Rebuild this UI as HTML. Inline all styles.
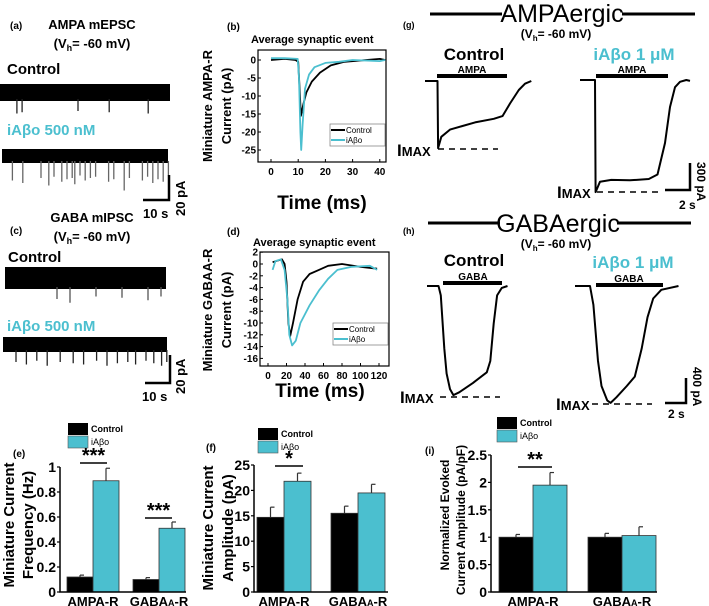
<!DOCTYPE html>
<html><head><meta charset="utf-8">
<style>
html,body{margin:0;padding:0;background:#fff;}
svg{display:block;font-family:"Liberation Sans",Arial,sans-serif;}
.b{font-weight:bold;}
</style></head>
<body>
<svg id="fig" width="709" height="606" viewBox="0 0 709 606" xmlns="http://www.w3.org/2000/svg">
<g id="static" fill="#000">
  <text x="10" y="29" font-size="10" class="b">(a)</text>
  <text x="92" y="29" font-size="13" text-anchor="middle" class="b">AMPA mEPSC</text>
  <text x="92" y="48" font-size="13" text-anchor="middle" class="b">(V<tspan font-size="9" dy="3">h</tspan><tspan dy="-3">= -60 mV)</tspan></text>
  <text x="7" y="74" font-size="15" class="b">Control</text>
  <text x="7" y="135" font-size="15" class="b" fill="#4bbfcf">iAβo 500 nM</text>
  <text x="143" y="218" font-size="13" class="b">10 s</text>
  <text transform="translate(185,216) rotate(-90)" font-size="13" class="b">20 pA</text>
  <text x="10" y="234" font-size="10" class="b">(c)</text>
  <text x="92" y="222" font-size="13" text-anchor="middle" class="b">GABA mIPSC</text>
  <text x="92" y="241" font-size="13" text-anchor="middle" class="b">(V<tspan font-size="9" dy="3">h</tspan><tspan dy="-3">= -60 mV)</tspan></text>
  <text x="8" y="262" font-size="15" class="b">Control</text>
  <text x="7" y="331" font-size="15" class="b" fill="#4bbfcf">iAβo 500 nM</text>
  <text x="142" y="401" font-size="13" class="b">10 s</text>
  <text transform="translate(185,394) rotate(-90)" font-size="13" class="b">20 pA</text>
  <text x="227" y="30" font-size="10" class="b">(b)</text>
  <text x="251" y="43" font-size="11" class="b">Average synaptic event</text>
  <text transform="translate(212,106) rotate(-90)" font-size="13" class="b" text-anchor="middle">Miniature AMPA-R</text>
  <text transform="translate(231,106) rotate(-90)" font-size="13" class="b" text-anchor="middle">Current (pA)</text>
  <text x="322" y="209" font-size="19" class="b" text-anchor="middle">Time (ms)</text>
  <text x="227" y="235" font-size="10" class="b">(d)</text>
  <text x="253" y="246" font-size="11" class="b">Average synaptic event</text>
  <text transform="translate(212,310) rotate(-90)" font-size="13" class="b" text-anchor="middle">Miniature GABAA-R</text>
  <text transform="translate(231,310) rotate(-90)" font-size="13" class="b" text-anchor="middle">Current (pA)</text>
  <text x="320" y="397" font-size="19" class="b" text-anchor="middle">Time (ms)</text>
  <line x1="430" y1="14" x2="502" y2="14" stroke="#000" stroke-width="3"/>
  <line x1="622" y1="14" x2="695" y2="14" stroke="#000" stroke-width="3"/>
  <text x="562" y="22" font-size="25" text-anchor="middle">AMPAergic</text>
  <text x="403" y="28" font-size="9" class="b">(g)</text>
  <text x="556" y="38" font-size="12" class="b" text-anchor="middle">(V<tspan font-size="8" dy="3">h</tspan><tspan dy="-3">= -60 mV)</tspan></text>
  <text x="474" y="60" font-size="17" class="b" text-anchor="middle">Control</text>
  <text x="634" y="60" font-size="17" class="b" text-anchor="middle" fill="#4bbfcf">iAβo 1 μM</text>
  <text x="472" y="73" font-size="10" class="b" text-anchor="middle">AMPA</text>
  <text x="632" y="73" font-size="10" class="b" text-anchor="middle">AMPA</text>
  <rect x="437" y="74" width="70" height="4"/>
  <rect x="596" y="74" width="72" height="4"/>
  <text x="397" y="156" font-size="13" class="b"><tspan font-size="17">I</tspan>MAX</text>
  <line x1="438" y1="149" x2="498" y2="149" stroke="#000" stroke-width="1.5" stroke-dasharray="6,5"/>
  <text x="557" y="198" font-size="13" class="b"><tspan font-size="17">I</tspan>MAX</text>
  <line x1="597" y1="192" x2="660" y2="192" stroke="#000" stroke-width="1.5" stroke-dasharray="6,5"/>
  <path d="M690 163 V190 H665" fill="none" stroke="#000" stroke-width="2.5"/>
  <text x="679" y="209" font-size="12" class="b">2 s</text>
  <text transform="translate(697,162) rotate(90)" font-size="12" class="b">300 pA</text>
  <line x1="428" y1="223" x2="500" y2="223" stroke="#000" stroke-width="3"/>
  <line x1="617" y1="223" x2="691" y2="223" stroke="#000" stroke-width="3"/>
  <text x="558" y="232" font-size="25" text-anchor="middle">GABAergic</text>
  <text x="403" y="234" font-size="9" class="b">(h)</text>
  <text x="556" y="248" font-size="12" class="b" text-anchor="middle">(V<tspan font-size="8" dy="3">h</tspan><tspan dy="-3">= -60 mV)</tspan></text>
  <text x="474" y="266" font-size="17" class="b" text-anchor="middle">Control</text>
  <text x="633" y="268" font-size="17" class="b" text-anchor="middle" fill="#4bbfcf">iAβo 1 μM</text>
  <text x="473" y="280" font-size="10" class="b" text-anchor="middle">GABA</text>
  <text x="629" y="282" font-size="10" class="b" text-anchor="middle">GABA</text>
  <rect x="443" y="281" width="59" height="4"/>
  <rect x="596" y="283" width="67" height="4"/>
  <text x="400" y="403" font-size="13" class="b"><tspan font-size="17">I</tspan>MAX</text>
  <line x1="440" y1="397" x2="500" y2="397" stroke="#000" stroke-width="1.5" stroke-dasharray="6,5"/>
  <text x="556" y="410" font-size="13" class="b"><tspan font-size="17">I</tspan>MAX</text>
  <line x1="592" y1="404" x2="652" y2="404" stroke="#000" stroke-width="1.5" stroke-dasharray="6,5"/>
  <path d="M686 378 V403 H665" fill="none" stroke="#000" stroke-width="2.5"/>
  <text x="668" y="418" font-size="12" class="b">2 s</text>
  <text transform="translate(693,367) rotate(90)" font-size="12" class="b">400 pA</text>
  <text x="13" y="457" font-size="10" class="b">(e)</text>
  <text transform="translate(14,525) rotate(-90)" font-size="15" class="b" text-anchor="middle">Miniature  Current</text>
  <text transform="translate(33,525) rotate(-90)" font-size="15" class="b" text-anchor="middle">Frequency (Hz)</text>
  <text x="206" y="451" font-size="10" class="b">(f)</text>
  <text transform="translate(213,528) rotate(-90)" font-size="15" class="b" text-anchor="middle">Miniature  Current</text>
  <text transform="translate(233,528) rotate(-90)" font-size="15" class="b" text-anchor="middle">Amplitude (pA)</text>
  <text x="425" y="454" font-size="10" class="b">(i)</text>
  <text transform="translate(449,515) rotate(-90)" font-size="12" class="b" text-anchor="middle">Normalized Evoked</text>
  <text transform="translate(465,520) rotate(-90)" font-size="12" class="b" text-anchor="middle">Current Amplitude (pA/pF)</text>
</g>
<g id="dyn"></g>
</svg>
<script>
const aCtrlSpikeT = [6.5, 8.5, 30, 42, 57];
const aCtrlSpikeA = [-10, -9, -8, -9, -10];
const aIaboSpikeT = [4, 8, 15, 18, 20, 23, 25, 27, 28, 30, 32, 34, 36, 41, 43, 47, 49, 54, 56, 58, 60, 62, 64];
const aIaboSpikeA = [-14, -16, -12, -18, -11, -15, -13, -12, -17, -10, -14, -12, -11, -15, -13, -22, -12, -14, -11, -16, -13, -15, -10];
const cCtrlSpikeT = [20, 25, 35, 45, 55, 60];
const cCtrlSpikeA = [-8, -11, -6, -7, -9, -6];
const cIaboSpikeT = [5, 9, 13, 17, 22, 27, 31, 36, 40, 44, 48, 51, 55, 58, 61, 63];
const cIaboSpikeA = [-8, -10, -7, -11, -8, -9, -10, -7, -11, -9, -8, -10, -7, -9, -11, -8];
const bT = [0, 5, 9, 10, 10.5, 11, 12, 13, 15, 18, 22, 27, 35, 40, 42];
const bCtrl = [0, 0.3, 0, -0.5, -8, -15.5, -12, -9, -6, -3.5, -1.5, -0.5, 0, 0.3, 0];
const bT2 = [0, 5, 9.8, 10.3, 10.8, 11.1, 11.6, 12.5, 14, 16, 20, 25, 30, 40, 42];
const bIabo = [0.5, 0.5, 0.3, -5, -20, -25, -18, -8, -4, -2, -0.8, -0.5, 0, -0.3, 0];
const dT = [5, 15, 18, 20, 22, 24, 27, 32, 38, 45, 55, 65, 80, 100, 118];
const dCtrl = [0.3, 0.8, 0, -3, -10, -12.2, -10, -6, -3, -1.7, -1, -0.3, 0, -0.5, -0.8];
const dT2 = [5, 8, 14, 18, 21, 23, 26, 30, 35, 45, 55, 65, 75, 90, 110, 118];
const dIabo = [-1, 0.5, 0.8, -1, -6, -12, -13.8, -13, -10, -7, -4.5, -2.5, -1, -0.5, -0.3, -1];
const bXTicks = [0, 10, 20, 30, 40];
const bYTicks = [0, -5, -10, -15, -20, -25];
const dXTicks = [0, 20, 40, 60, 80, 100, 120];
const dYTicks = [2, 0, -2, -4, -6, -8, -10, -12, -14, -16];
const gCtrlT = [0, 1.0, 1.05, 1.3, 2, 3, 4, 5.5, 6.2, 6.8, 7.5, 8, 8.5];
const gCtrlI = [0, 0, -745, -620, -540, -500, -460, -420, -390, -250, -100, -30, 0];
const gIaboT = [0, 1.2, 1.25, 1.6, 2.5, 4, 5.5, 6.2, 6.8, 7.2, 7.6, 8, 8.5, 8.8];
const gIaboI = [0, 0, -1245, -1130, -1110, -1115, -1100, -1050, -700, -300, -80, -20, 0, -10];
const hCtrlT = [0, 1.0, 1.2, 1.5, 1.7, 2.0, 2.3, 2.8, 4, 5.2, 5.5, 5.8, 6.1, 6.5, 7];
const hCtrlI = [0, 0, -150, -1000, -1400, -1650, -1745, -1700, -1550, -1380, -1200, -600, -150, -30, 0];
const hIaboT = [0, 1.3, 1.6, 2.0, 2.3, 2.8, 3.1, 3.6, 4.5, 5.2, 5.8, 6.3, 6.8, 7.5, 9];
const hIaboI = [0, 0, -300, -1200, -1600, -1830, -1870, -1780, -1600, -1450, -1000, -500, -200, -60, 0];
const barCategories = ['AMPA-R', 'GABAA-R'];
const eCtrl = [0.12, 0.10];
const eCtrlErr = [0.015, 0.015];
const eIabo = [0.89, 0.51];
const eIaboErr = [0.10, 0.05];
const eTicks = [0, 0.2, 0.4, 0.6, 0.8, 1];
const fCtrl = [14.7, 15.5];
const fCtrlErr = [2.0, 1.4];
const fIabo = [21.8, 19.5];
const fIaboErr = [1.6, 1.7];
const fTicks = [0, 5, 10, 15, 20, 25];
const iCtrl = [1.0, 1.0];
const iCtrlErr = [0.05, 0.07];
const iIabo = [1.95, 1.03];
const iIaboErr = [0.23, 0.16];
const iTicks = [0, 0.5, 1, 1.5, 2, 2.5];
const TEAL = '#4bbfcf';

const NS = 'http://www.w3.org/2000/svg';
const dyn = document.getElementById('dyn');
function mk(tag, attrs, parent) {
  const el = document.createElementNS(NS, tag);
  for (const k in attrs) el.setAttribute(k, attrs[k]);
  (parent || dyn).appendChild(el);
  return el;
}
function txt(x, y, s, size, anchor, extra) {
  const t = mk('text', Object.assign({x: x, y: y, 'font-size': size, 'text-anchor': anchor || 'start', 'font-weight': 'bold'}, extra || {}));
  t.textContent = s;
  return t;
}

function rawTrace(name, x0, x1, yTop, yBot, pxPerS, pxPerPA, spT, spA, spColor) {
  const band = mk('rect', {x: x0, y: yTop, width: x1 - x0, height: yBot - yTop, fill: '#000'});
  
  
  for (let i = 0; i < spT.length; i++) {
    const x = x0 + spT[i] * pxPerS;
    const l = mk('line', {x1: x, x2: x, y1: yBot - 2, y2: yBot + (-spA[i]) * pxPerPA, stroke: spColor, 'stroke-width': 1.3});
    
    
  }
}
rawTrace('a-control-trace', 0, 170, 84, 101, 2.6, 1.25, aCtrlSpikeT, aCtrlSpikeA, '#222');
rawTrace('a-iabo-trace', 2, 168, 149, 163, 2.6, 1.25, aIaboSpikeT, aIaboSpikeA, '#666');
rawTrace('c-control-trace', 5, 166, 267, 289, 2.6, 1.25, cCtrlSpikeT, cCtrlSpikeA, '#555');
rawTrace('c-iabo-trace', 3, 167, 337, 352, 2.6, 1.25, cIaboSpikeT, cIaboSpikeA, '#222');
[['a', 169, 175, 200, 143], ['c', 170, 355, 383, 145]].forEach(s => {
  const p = mk('path', {d: `M${s[1]} ${s[2]} V${s[3]} H${s[4]}`, fill: 'none', stroke: '#000', 'stroke-width': 2.5});
  
  
});

function linePanel(name, box, xMap, yMap, xTicks, yTicks, series, legendY) {
  const r = mk('rect', {x: box[0], y: box[1], width: box[2] - box[0], height: box[3] - box[1], fill: 'none', stroke: '#000', 'stroke-width': 1.2});
  
  
  xTicks.forEach(v => {
    const x = xMap(v);
    mk('line', {x1: x, x2: x, y1: box[3], y2: box[3] - 3, stroke: '#000'});
    const t = txt(x, box[3] + 13, String(v), 10, 'middle');
    
    
  });
  yTicks.forEach(v => {
    const y = yMap(v);
    mk('line', {x1: box[0], x2: box[0] + 3, y1: y, y2: y, stroke: '#000'});
    const t = txt(box[0] - 2, y + 3.5, String(v), 10, 'end');
    
    
  });
  series.forEach(s => {
    const pts = s.t.map((t, i) => xMap(t).toFixed(1) + ',' + yMap(s.v[i]).toFixed(1)).join(' ');
    const pl = mk('polyline', {points: pts, fill: 'none', stroke: s.c, 'stroke-width': 1.8, 'stroke-linejoin': 'round'});
    
    
  });
  const lx = box[2] - 56;
  const lg = mk('rect', {x: lx, y: legendY, width: 55, height: 22, fill: '#fff', stroke: '#888', 'stroke-width': 0.8});
  
  
  mk('line', {x1: lx + 1, x2: lx + 15, y1: legendY + 6, y2: legendY + 6, stroke: '#000', 'stroke-width': 2});
  mk('line', {x1: lx + 1, x2: lx + 15, y1: legendY + 16, y2: legendY + 16, stroke: TEAL, 'stroke-width': 2});
  const l1 = txt(lx + 16, legendY + 9, 'Control', 8, 'start', {'font-weight': 'normal'});
  
  
  const l2 = txt(lx + 16, legendY + 19, 'iAβo', 8, 'start', {'font-weight': 'normal'});
  
  
}
linePanel('panel-b', [258, 50, 386, 162], t => 271 + t * 2.72, v => 60 - v * 3.6, bXTicks, bYTicks,
  [{n: 'control', t: bT, v: bCtrl, c: '#000'}, {n: 'iabo', t: bT2, v: bIabo, c: TEAL}], 124);
linePanel('panel-d', [260, 252, 389, 366], t => 268 + t * 0.925, v => 264 - v * 5.9, dXTicks, dYTicks,
  [{n: 'control', t: dT, v: dCtrl, c: '#000'}, {n: 'iabo', t: dT2, v: dIabo, c: TEAL}], 323);

function evoked(name, x0, y0, pxS, pxPA, T, I) {
  const pts = T.map((t, i) => (x0 + t * pxS).toFixed(1) + ',' + (y0 - I[i] * pxPA).toFixed(1)).join(' ');
  const pl = mk('polyline', {points: pts, fill: 'none', stroke: '#000', 'stroke-width': 2, 'stroke-linejoin': 'round'});
  
  
}
evoked('g-control-trace', 425, 81, 12.5, 0.09, gCtrlT, gCtrlI);
evoked('g-iabo-trace', 580, 80, 12.5, 0.09, gIaboT, gIaboI);
evoked('h-control-trace', 427, 286, 11.5, 0.0625, hCtrlT, hCtrlI);
evoked('h-iabo-trace', 575, 286, 11.5, 0.0625, hIaboT, hIaboI);

function barPanel(name, axX, axRight, y0, yTop, maxV, ticks, groupStarts, barW, ctrl, ctrlE, iabo, iaboE, legend, sig) {
  const yMap = v => y0 - (v / maxV) * (y0 - yTop);
  ticks.forEach(v => {
    const y = yMap(v);
    mk('line', {x1: axX - 3, x2: axX, y1: y, y2: y, stroke: '#000', 'stroke-width': 1.2});
    const t = txt(axX - 4, y + 5, String(v), 14, 'end');
    
    
  });
  groupStarts.forEach((gx, i) => {
    [[ctrl, ctrlE, '#000', 'control', 0], [iabo, iaboE, TEAL, 'iabo', 1]].forEach(s => {
      const x = gx + s[4] * barW;
      const top = yMap(s[0][i]);
      const errY = yMap(s[0][i] + s[1][i]);
      const el = mk('line', {x1: x + barW / 2, x2: x + barW / 2, y1: top, y2: errY, stroke: '#333', 'stroke-width': 1.2});
      mk('line', {x1: x + barW / 2, x2: x + barW / 2 + 4, y1: errY, y2: errY, stroke: '#333', 'stroke-width': 1.2});
      
      
      const r = mk('rect', {x: x, y: top, width: barW, height: y0 - top, fill: s[2], stroke: '#333', 'stroke-width': 0.8});
      
      
    });
    const lab = txt(gx + barW, y0 + 14, i === 0 ? 'AMPA-R' : 'GABA', 13, 'middle');
    if (i === 1) {
      const ts = document.createElementNS(NS, 'tspan'); ts.setAttribute('font-size', '9'); ts.textContent = 'A';
      lab.appendChild(ts);
      const ts2 = document.createElementNS(NS, 'tspan'); ts2.textContent = '-R';
      lab.appendChild(ts2);
    }
    
    
  });
  const ax = mk('path', {d: `M${axX} ${yTop} V${y0} H${axRight}`, fill: 'none', stroke: '#000', 'stroke-width': 1.5});
  
  
  const lb = mk('rect', {x: legend[0], y: legend[1], width: 20, height: 12, fill: '#000'});
  
  
  const lt = mk('rect', {x: legend[0], y: legend[1] + 13, width: 20, height: 12, fill: TEAL, stroke: '#555', 'stroke-width': 0.6});
  
  
  const t1 = txt(legend[0] + 23, legend[1] + 9, 'Control', 9, 'start');
  
  
  const t2 = txt(legend[0] + 23, legend[1] + 22, 'iAβo', 9, 'start', {'font-weight': 'normal'});
  
  
  sig.forEach(s => {
    mk('line', {x1: s[0], x2: s[1], y1: s[2], y2: s[2], stroke: '#000', 'stroke-width': 1.5});
    const st = txt((s[0] + s[1]) / 2, s[2] - 1, s[3], 20, 'middle');
    
    
  });
}
barPanel('panel-e', 60, 186, 592, 467, 1, eTicks, [67, 133], 26, eCtrl, eCtrlErr, eIabo, eIaboErr, [68, 423],
  [[80, 107, 463, '***'], [145, 172, 518, '***']]);
barPanel('panel-f', 254, 388, 592, 465, 25, fTicks, [257, 331], 27, fCtrl, fCtrlErr, fIabo, fIaboErr, [258, 428],
  [[275, 303, 466, '*']]);
barPanel('panel-i', 491, 657, 592, 455, 2.5, iTicks, [499, 588], 34, iCtrl, iCtrlErr, iIabo, iIaboErr, [497, 417],
  [[518, 552, 467, '**']]);
</script>
</body></html>
